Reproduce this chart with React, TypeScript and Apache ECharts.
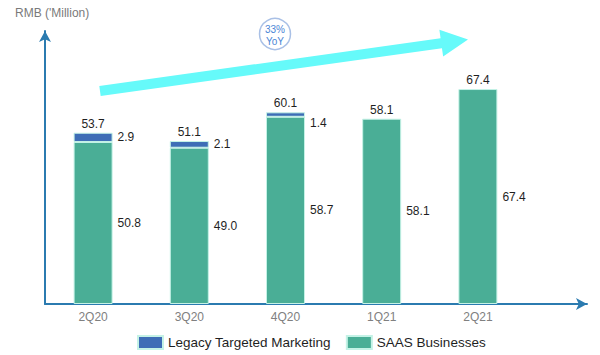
import React, { useEffect, useRef } from "react";
import * as echarts from "echarts";

const categories = ["2Q20", "3Q20", "4Q20", "1Q21", "2Q21"];
const saasValues = [50.8, 49.0, 58.7, 58.1, 67.4];
const legacyValues: (number | null)[] = [2.9, 2.1, 1.4, null, null];
const totalValues = [53.7, 51.1, 60.1, 58.1, 67.4];
const yoyText = ["33%", "YoY"];
const axisTitle = "RMB ('Million)";

export default function App() {
  const ref = useRef<HTMLDivElement>(null);
  useEffect(() => {
    if (!ref.current) return;
    const chart = echarts.init(ref.current, null, { renderer: "svg" });
    const axisColor = "#2b7bb0";
    const labelStyle = { color: "#1f1f1f", fontSize: 12 };
    const font = "'Liberation Sans', Arial, sans-serif";

    // cyan trend arrow geometry
    const S = [100, 91];
    const T = [468, 39.5];
    const dx = T[0] - S[0], dy = T[1] - S[1];
    const L = Math.sqrt(dx * dx + dy * dy);
    const u = [dx / L, dy / L];
    const n = [-u[1], u[0]];
    const head = 27, hw = 13.5, bw = 5;
    const B = [S[0] + u[0] * (L - head), S[1] + u[1] * (L - head)];
    const pt = (p: number[], k: number) => [p[0] + n[0] * k, p[1] + n[1] * k];
    const arrowPts = [pt(S, -bw), pt(B, -bw), pt(B, -hw), T, pt(B, hw), pt(B, bw), pt(S, bw)];

    chart.setOption({
      animation: false,
      textStyle: { fontFamily: font },
      grid: [
        { left: 45, top: 31, bottom: 51, width: 481 },
        { left: 45, top: 31, bottom: 51, right: 13 },
      ],
      legend: {
        data: ["Legacy Targeted Marketing", "SAAS Businesses"],
        left: 137,
        top: 335,
        padding: 0,
        itemWidth: 25,
        itemHeight: 13,
        itemGap: 15,
        textStyle: { color: "#1f1f1f", fontSize: 13.5 },
        icon: "rect",
      },
      xAxis: [
        {
          type: "category",
          data: categories,
          gridIndex: 0,
          axisLine: { show: false },
          axisTick: { show: false },
          axisLabel: { color: "#808080", fontSize: 12, margin: 7 },
        },
        {
          type: "value",
          gridIndex: 1,
          min: 0,
          max: 1,
          axisLine: {
            show: true,
            lineStyle: { color: axisColor, width: 2 },
            symbol: ["none", "arrow"],
            symbolSize: [9, 11],
          },
          axisTick: { show: false },
          axisLabel: { show: false },
          splitLine: { show: false },
        },
      ],
      yAxis: [
        {
          type: "value",
          gridIndex: 0,
          min: 0,
          max: 85.6,
          axisLine: {
            show: true,
            lineStyle: { color: axisColor, width: 2 },
            symbol: ["none", "arrow"],
            symbolSize: [9, 11],
          },
          axisTick: { show: false },
          axisLabel: { show: false },
          splitLine: { show: false },
          name: axisTitle,
          nameLocation: "end",
          nameGap: 12,
          nameTextStyle: { color: "#7a7a7a", fontSize: 12, align: "left", padding: [0, 0, 0, -30] },
        },
        { type: "value", gridIndex: 1, show: false },
      ],
      series: [
        {
          name: "SAAS Businesses",
          type: "bar",
          stack: "rev",
          barWidth: 39,
          data: saasValues,
          itemStyle: { color: "#4aae96", borderColor: "#c4f2e6", borderWidth: 1 },
          label: {
            show: true,
            position: "right",
            distance: 5,
            ...labelStyle,
            formatter: (p: any) => Number(p.value).toFixed(1),
          },
        },
        {
          name: "Legacy Targeted Marketing",
          type: "bar",
          stack: "rev",
          barWidth: 39,
          data: legacyValues.map((v, i) =>
            i === 2 ? { value: v, label: { offset: [0, 8] } } : v
          ),
          itemStyle: { color: "#3e6db6", borderColor: "#c4f2e6", borderWidth: 1 },
          label: {
            show: true,
            position: "right",
            distance: 5,
            ...labelStyle,
            formatter: (p: any) => (p.value == null ? "" : Number(p.value).toFixed(1)),
          },
        },
        {
          name: "Total",
          type: "bar",
          barWidth: 39,
          barGap: "-100%",
          z: 1,
          data: totalValues,
          itemStyle: { color: "rgba(0,0,0,0)" },
          label: {
            show: true,
            position: "top",
            distance: 3,
            ...labelStyle,
            formatter: (p: any) => Number(p.value).toFixed(1),
          },
          silent: true,
        },
      ],
      graphic: [
        {
          type: "polygon",
          shape: { points: arrowPts },
          style: { fill: "#66fafa" },
          z: 10,
        },
        {
          type: "circle",
          shape: { cx: 275, cy: 34, r: 15.5 },
          style: { fill: "#ffffff", stroke: "#a9c0e6", lineWidth: 1.5 },
          z: 10,
        },
        {
          type: "text",
          x: 275,
          y: 29,
          style: {
            text: yoyText[0],
            fill: "#4a86d6",
            fontSize: 10,
            align: "center",
            verticalAlign: "middle",
            fontFamily: font,
          },
          z: 11,
        },
        {
          type: "text",
          x: 275,
          y: 41,
          style: {
            text: yoyText[1],
            fill: "#4a86d6",
            fontSize: 10,
            align: "center",
            verticalAlign: "middle",
            fontFamily: font,
          },
          z: 11,
        },
      ],
    });
    return () => chart.dispose();
  }, []);
  return (
    <div
      ref={ref}
      style={{ position: "fixed", left: 0, top: 0, width: 600, height: 355, background: "#fff" }}
    />
  );
}
